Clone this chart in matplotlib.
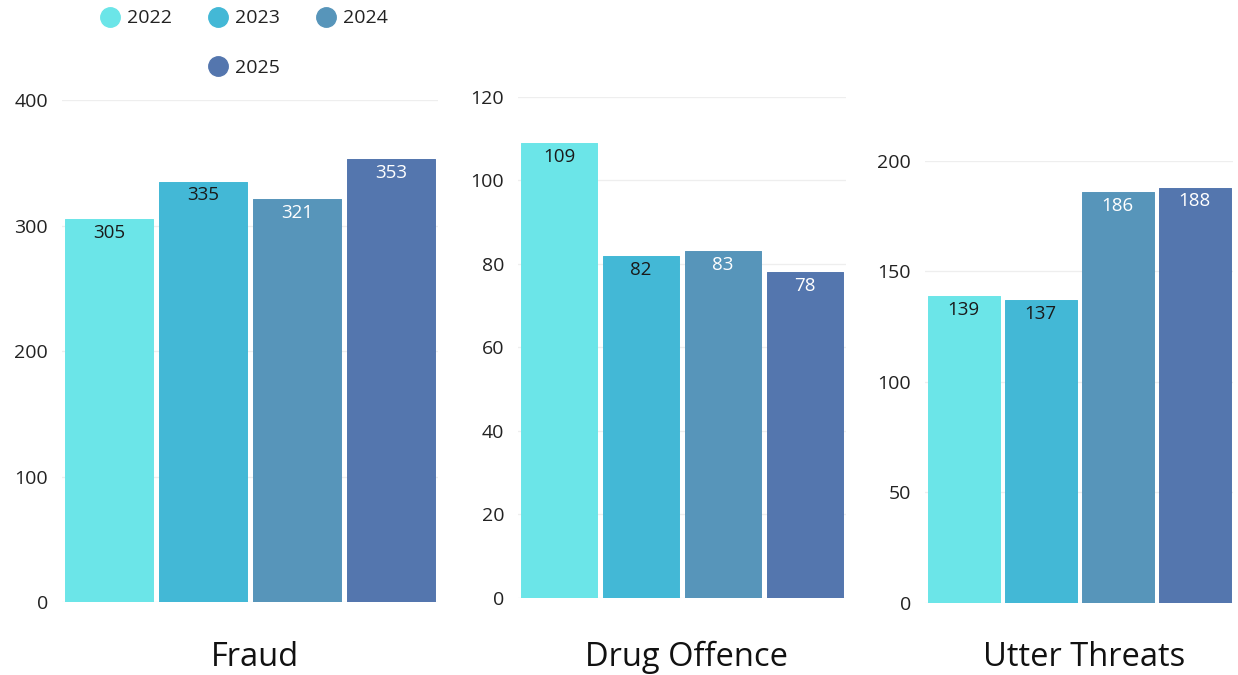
import matplotlib.pyplot as plt
from matplotlib.lines import Line2D

plt.rcParams['font.family'] = ['Open Sans', 'DejaVu Sans']

# data
years = ['2022', '2023', '2024', '2025']
categories = ['Fraud', 'Drug Offence', 'Utter Threats']
fraud = [305, 335, 321, 353]
drug_offence = [109, 82, 83, 78]
utter_threats = [139, 137, 186, 188]
values = [fraud, drug_offence, utter_threats]

colors = ['#6BE5E8', '#43B8D6', '#5795BA', '#5476AE']
label_colors = ['#1a1a1a', '#1a1a1a', 'white', 'white']

# axes layout (figure fractions) and y scales
boxes = [
    [0.0501, 0.1081, 0.3037, 0.7437],
    [0.4184, 0.1141, 0.2649, 0.7422],
    [0.7472, 0.1067, 0.2488, 0.6548],
]
ylims = [400, 120, 200]
yticks = [range(0, 401, 100), range(0, 121, 20), range(0, 201, 50)]

fig = plt.figure(figsize=(12.38, 6.75), dpi=100)

for i, cat in enumerate(categories):
    ax = fig.add_axes(boxes[i])
    x = range(len(years))
    bars = ax.bar(x, values[i], width=0.935, color=colors,
                  edgecolor=colors, linewidth=0.7, zorder=3)
    for b in bars:
        b.set_joinstyle('round')

    for xi, v, lc in zip(x, values[i], label_colors):
        ax.annotate(str(v), (xi, v), xytext=(0, -3.5), textcoords='offset points',
                    ha='center', va='top', fontsize=13.5, color=lc, zorder=4)

    ax.set_xlim(-0.5, 3.5)
    ax.set_ylim(0, ylims[i])
    ax.set_yticks(list(yticks[i]))
    ax.set_xticks([])
    ax.tick_params(axis='y', length=0, pad=10, labelsize=14, labelcolor='#222222')
    ax.grid(axis='y', color='#EEEEEE', linewidth=0.9, zorder=0)
    ax.set_axisbelow(True)
    for s in ax.spines.values():
        s.set_visible(False)

    pos = ax.get_position()
    fig.text(pos.x0 + pos.width / 2 + 0.004, 0.026, cat, ha='center', va='center',
             fontsize=23.5, color='#111111')

# legend: three on the first row, 2025 centred below
handles = []
labels = []
blank = Line2D([], [], linestyle='none', marker='none')
order = [(0, True), (None, False), (1, True), (3, True), (2, True), (None, False)]
for idx, real in order:
    if real:
        handles.append(Line2D([], [], linestyle='none', marker='o',
                              markersize=14, color=colors[idx]))
        labels.append(years[idx])
    else:
        handles.append(blank)
        labels.append('')

fig.legend(handles, labels, ncol=3, loc='center',
           bbox_to_anchor=(243 / 1238, 1 - 43 / 675), frameon=False,
           fontsize=14, handletextpad=0.3, columnspacing=1.75,
           labelspacing=1.6, handlelength=1.2, labelcolor='#222222')

fig.savefig('out.png', dpi=100)
